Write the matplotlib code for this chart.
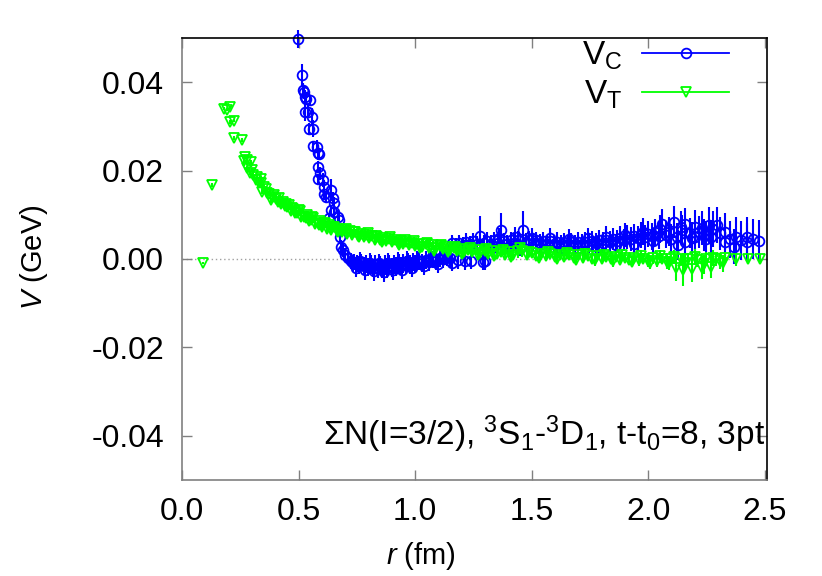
import matplotlib
matplotlib.use("Agg")
import matplotlib.pyplot as plt
from matplotlib.lines import Line2D

plt.rcParams['font.family'] = ['Liberation Sans', 'DejaVu Sans']
plt.rcParams['mathtext.fontset'] = 'custom'
plt.rcParams['mathtext.rm'] = 'Liberation Sans'
plt.rcParams['mathtext.it'] = 'Liberation Sans:italic'
plt.rcParams['mathtext.sf'] = 'Liberation Sans'

# ---------------- data: V_T (tensor) ----------------
r_t = [0.089, 0.128, 0.179, 0.195, 0.205, 0.205, 0.225, 0.222, 0.258, 0.265,
       0.272, 0.280, 0.294, 0.280, 0.301, 0.292, 0.323, 0.337, 0.316, 0.337,
       0.352, 0.344, 0.360, 0.373, 0.380, 0.395, 0.405, 0.416, 0.423, 0.432,
       0.440, 0.452, 0.460, 0.467, 0.478, 0.485, 0.495, 0.505, 0.512, 0.524,
       0.535, 0.545, 0.553, 0.562, 0.570, 0.582, 0.590, 0.600, 0.610, 0.620,
       0.632, 0.640, 0.652, 0.663, 0.675, 0.685, 0.697, 0.708, 0.720, 0.731,
       0.742, 0.755, 0.768, 0.779, 0.790, 0.802, 0.815, 0.826, 0.838, 0.850,
       0.862, 0.875, 0.888, 0.900, 0.913, 0.925, 0.938, 0.950, 0.963, 0.976,
       0.988, 1.000, 1.015, 1.030, 1.045, 1.060, 1.075, 1.090, 1.105, 1.120,
       1.135, 1.150, 1.165, 1.180, 1.195, 1.210, 1.228, 1.245, 1.262, 1.280,
       1.298, 1.315, 1.332, 1.350, 1.368, 1.385, 1.403, 1.420, 1.440, 1.460,
       1.480, 1.500, 1.520, 1.540, 1.560, 1.580, 1.600, 1.620, 1.640, 1.660,
       1.680, 1.700, 1.720, 1.740, 1.760, 1.780, 1.800, 1.820, 1.840, 1.860,
       1.880, 1.900, 1.920, 1.940, 1.960, 1.980, 2.000, 2.020, 2.040, 2.060,
       2.080, 2.100, 2.120, 2.140, 2.150, 2.170, 2.190, 2.210, 2.230, 2.250,
       2.270, 2.290, 2.310, 2.330, 2.375, 2.430, 2.480]
v_t = [-0.0009, 0.0167, 0.0340, 0.0338, 0.0343, 0.0310, 0.0313, 0.0274, 0.0269, 0.0222,
       0.0231, 0.0224, 0.0220, 0.0205, 0.0201, 0.0195, 0.0186, 0.0182, 0.0178, 0.0171,
       0.0163, 0.0152, 0.0158, 0.0148, 0.0133, 0.0145, 0.0136, 0.0137, 0.0124, 0.0130,
       0.0119, 0.0118, 0.0123, 0.0109, 0.0114, 0.0104, 0.0103, 0.0108, 0.0096, 0.0096,
       0.0100, 0.0087, 0.0088, 0.0092, 0.0080, 0.0081, 0.0086, 0.0073, 0.0080, 0.0069,
       0.0076, 0.0066, 0.0072, 0.0063, 0.0069, 0.0060, 0.0066, 0.0057, 0.0063, 0.0054,
       0.0060, 0.0052, 0.0057, 0.0049, 0.0055, 0.0047, 0.0052, 0.0044, 0.0050, 0.0042,
       0.0047, 0.0040, 0.0045, 0.0038, 0.0043, 0.0036, 0.0041, 0.0034, 0.0039, 0.0032,
       0.0037, 0.0030, 0.0035, 0.0028, 0.0033, 0.0026, 0.0031, 0.0024, 0.0029, 0.0022,
       0.0027, 0.0020, 0.0025, 0.0018, 0.0023, 0.0016, 0.0021, 0.0015, 0.0020, 0.0013,
       0.0018, 0.0012, 0.0017, 0.0011, 0.0016, 0.0010, 0.0015, 0.0009, 0.0017, 0.0019,
       0.0008, 0.0013, 0.0007, 0.0012, 0.0006, 0.0011, 0.0005, 0.0010, 0.0004, 0.0009,
       0.0003, 0.0008, 0.0002, 0.0007, 0.0001, 0.0006, 0.0000, 0.0005, -0.0001, 0.0004,
       -0.0002, 0.0003, -0.0002, 0.0002, -0.0003, 0.0001, -0.0004, 0.0002, -0.0005, 0.0001,
       -0.0006, 0.0000, -0.0020, -0.0001, -0.0024, 0.0000, -0.0022, -0.0002, -0.0020, 0.0001,
       -0.0018, -0.0001, -0.0005, 0.0002, -0.0001, 0.0000, 0.0000]
e_t = [0.0003, 0.0004, 0.0004, 0.0004, 0.0004, 0.0004, 0.0004, 0.0004, 0.0004, 0.0005,
       0.0005, 0.0005, 0.0005, 0.0005, 0.0005, 0.0005, 0.0005, 0.0005, 0.0005, 0.0005,
       0.0006, 0.0006, 0.0006, 0.0006, 0.0006, 0.0006, 0.0007, 0.0007, 0.0007, 0.0007,
       0.0007, 0.0007, 0.0007, 0.0007, 0.0007, 0.0007, 0.0008, 0.0008, 0.0008, 0.0008,
       0.0008, 0.0008, 0.0008, 0.0008, 0.0008, 0.0008, 0.0008, 0.0008, 0.0008, 0.0008,
       0.0009, 0.0009, 0.0009, 0.0009, 0.0009, 0.0009, 0.0009, 0.0009, 0.0009, 0.0009,
       0.0009, 0.0009, 0.0009, 0.0009, 0.0009, 0.0009, 0.0009, 0.0009, 0.0009, 0.0009,
       0.0009, 0.0009, 0.0009, 0.0009, 0.0009, 0.0009, 0.0009, 0.0009, 0.0009, 0.0009,
       0.0010, 0.0010, 0.0010, 0.0010, 0.0010, 0.0010, 0.0010, 0.0010, 0.0010, 0.0010,
       0.0010, 0.0010, 0.0010, 0.0010, 0.0010, 0.0010, 0.0010, 0.0010, 0.0010, 0.0010,
       0.0010, 0.0010, 0.0010, 0.0010, 0.0010, 0.0010, 0.0010, 0.0010, 0.0014, 0.0014,
       0.0010, 0.0010, 0.0010, 0.0010, 0.0010, 0.0010, 0.0010, 0.0010, 0.0011, 0.0011,
       0.0011, 0.0011, 0.0011, 0.0011, 0.0011, 0.0011, 0.0011, 0.0011, 0.0011, 0.0011,
       0.0012, 0.0012, 0.0012, 0.0012, 0.0012, 0.0012, 0.0013, 0.0013, 0.0014, 0.0013,
       0.0016, 0.0013, 0.0030, 0.0013, 0.0038, 0.0014, 0.0030, 0.0015, 0.0026, 0.0014,
       0.0025, 0.0015, 0.0018, 0.0014, 0.0015, 0.0012, 0.0012]
# second group of V_T points (other lattice directions)
r_t_b = [0.306, 0.330, 0.365, 0.390, 0.412, 0.445, 0.472, 0.500, 0.530, 0.558,
         0.586, 0.615, 0.645, 0.670, 0.702, 0.736, 0.760, 0.796, 0.832, 0.856,
         0.894, 0.930, 0.957, 0.994, 1.022, 1.052, 1.083, 1.112, 1.142, 1.172,
         1.202, 1.236, 1.270, 1.306, 1.340, 1.376, 1.412, 1.450, 1.490, 1.530,
         1.570, 1.610, 1.650, 1.690, 1.730, 1.770, 1.810, 1.850, 1.890, 1.930,
         1.970, 2.010, 2.050, 2.090, 2.110, 2.160, 2.200, 2.240, 2.280, 2.320]
v_t_b = [0.0190, 0.0172, 0.0150, 0.0140, 0.0128, 0.0125, 0.0116, 0.0110, 0.0092, 0.0095,
         0.0077, 0.0082, 0.0073, 0.0060, 0.0068, 0.0062, 0.0050, 0.0058, 0.0053, 0.0038,
         0.0049, 0.0032, 0.0044, 0.0040, 0.0024, 0.0036, 0.0019, 0.0032, 0.0016, 0.0028,
         0.0012, 0.0025, 0.0008, 0.0022, 0.0006, 0.0020, 0.0004, 0.0024, 0.0016, 0.0002,
         0.0015, 0.0000, 0.0013, -0.0002, 0.0012, -0.0003, 0.0010, -0.0004, 0.0009, -0.0006,
         0.0007, -0.0008, 0.0006, -0.0010, 0.0005, -0.0008, 0.0004, -0.0012, 0.0003, -0.0010]
e_t_b = [0.0007, 0.0007, 0.0008, 0.0008, 0.0008, 0.0009, 0.0009, 0.0009, 0.0009, 0.0009,
         0.0009, 0.0009, 0.0009, 0.0009, 0.0009, 0.0009, 0.0009, 0.0009, 0.0009, 0.0009,
         0.0010, 0.0010, 0.0010, 0.0010, 0.0010, 0.0010, 0.0010, 0.0010, 0.0010, 0.0010,
         0.0010, 0.0010, 0.0010, 0.0011, 0.0011, 0.0011, 0.0011, 0.0012, 0.0011, 0.0011,
         0.0011, 0.0011, 0.0012, 0.0012, 0.0012, 0.0012, 0.0012, 0.0013, 0.0013, 0.0013,
         0.0014, 0.0014, 0.0015, 0.0016, 0.0016, 0.0020, 0.0018, 0.0022, 0.0018, 0.0020]

# ---------------- data: V_C (central) ----------------
r_c = [0.498, 0.517, 0.521, 0.524, 0.527, 0.531, 0.550, 0.527, 0.539, 0.556,
       0.546, 0.563, 0.560, 0.579, 0.582, 0.589, 0.585, 0.593, 0.582, 0.603,
       0.610, 0.610, 0.639, 0.618, 0.647, 0.654, 0.639, 0.654, 0.668, 0.632,
       0.675, 0.680, 0.684, 0.690, 0.700, 0.712, 0.725, 0.740, 0.733, 0.750,
       0.760, 0.770, 0.780, 0.790, 0.800, 0.810, 0.820, 0.830, 0.840, 0.850,
       0.860, 0.870, 0.880, 0.890, 0.900, 0.910, 0.920, 0.930, 0.940, 0.950,
       0.960, 0.970, 0.980, 0.990, 1.000, 1.015, 1.030, 1.045, 1.060, 1.075,
       1.090, 1.105, 1.120, 1.135, 1.150, 1.160, 1.175, 1.190, 1.205, 1.220,
       1.240, 1.235, 1.250, 1.265, 1.280, 1.290, 1.295, 1.310, 1.325, 1.340,
       1.355, 1.367, 1.380, 1.395, 1.410, 1.425, 1.440, 1.463, 1.475, 1.490,
       1.505, 1.520, 1.535, 1.550, 1.565, 1.580, 1.595, 1.610, 1.625, 1.640,
       1.655, 1.670, 1.685, 1.700, 1.715, 1.730, 1.745, 1.760, 1.775, 1.790,
       1.805, 1.820, 1.835, 1.850, 1.865, 1.880, 1.895, 1.910, 1.925, 1.940,
       1.955, 1.970, 1.985, 2.000, 2.015, 2.030, 2.045, 2.060, 2.075, 2.090,
       2.110, 2.125, 2.130, 2.145, 2.160, 2.160, 2.180, 2.200, 2.200, 2.220,
       2.240, 2.260, 2.270, 2.295, 2.310, 2.330, 2.330, 2.370, 2.375, 2.425,
       2.425, 2.475]
v_c = [0.0497, 0.0417, 0.0383, 0.0378, 0.0367, 0.0363, 0.0359, 0.0333, 0.0333, 0.0322,
       0.0295, 0.0295, 0.0255, 0.0254, 0.0239, 0.0237, 0.0209, 0.0194, 0.0180, 0.0179,
       0.0163, 0.0148, 0.0157, 0.0141, 0.0137, 0.0126, 0.0111, 0.0107, 0.0096, 0.0092,
       0.0088, 0.0050, 0.0028, 0.0020, 0.0010, 0.0003, -0.0005, -0.0006, -0.0010, -0.0010,
       -0.0014, -0.0008, -0.0016, -0.0011, -0.0018, -0.0012, -0.0020, -0.0013, -0.0022, -0.0015,
       -0.0021, -0.0014, -0.0020, -0.0013, -0.0019, -0.0012, -0.0017, -0.0011, -0.0016, -0.0010,
       -0.0014, -0.0008, -0.0013, -0.0007, -0.0011, -0.0005, -0.0009, -0.0003, -0.0007, -0.0001,
       -0.0004, 0.0002, -0.0001, 0.0005, 0.0003, 0.0037, 0.0030, 0.0036, 0.0031, 0.0039,
       -0.0005, 0.0033, 0.0040, 0.0034, 0.0052, -0.0006, 0.0036, 0.0041, 0.0035, 0.0042,
       0.0037, 0.0066, 0.0040, 0.0035, 0.0042, 0.0037, 0.0043, 0.0066, 0.0038, 0.0043,
       0.0037, 0.0042, 0.0036, 0.0041, 0.0035, 0.0040, 0.0034, 0.0039, 0.0033, 0.0038,
       0.0033, 0.0038, 0.0033, 0.0038, 0.0034, 0.0039, 0.0035, 0.0040, 0.0036, 0.0042,
       0.0037, 0.0044, 0.0039, 0.0046, 0.0041, 0.0048, 0.0043, 0.0050, 0.0045, 0.0052,
       0.0047, 0.0055, 0.0049, 0.0057, 0.0051, 0.0060, 0.0053, 0.0080, 0.0055, 0.0062,
       0.0084, 0.0050, 0.0032, 0.0065, 0.0080, 0.0039, 0.0058, 0.0073, 0.0050, 0.0062,
       0.0055, 0.0077, 0.0050, 0.0077, 0.0058, 0.0062, 0.0039, 0.0028, 0.0050, 0.0050,
       0.0039, 0.0041]
e_c = [0.0020, 0.0025, 0.0015, 0.0015, 0.0015, 0.0015, 0.0012, 0.0020, 0.0015, 0.0020,
       0.0012, 0.0020, 0.0012, 0.0015, 0.0015, 0.0012, 0.0012, 0.0015, 0.0010, 0.0015,
       0.0015, 0.0012, 0.0025, 0.0012, 0.0015, 0.0015, 0.0012, 0.0015, 0.0015, 0.0012,
       0.0015, 0.0015, 0.0015, 0.0016, 0.0016, 0.0017, 0.0018, 0.0018, 0.0019, 0.0019,
       0.0020, 0.0020, 0.0020, 0.0020, 0.0021, 0.0021, 0.0021, 0.0021, 0.0022, 0.0022,
       0.0022, 0.0022, 0.0022, 0.0022, 0.0022, 0.0022, 0.0022, 0.0022, 0.0021, 0.0021,
       0.0021, 0.0021, 0.0021, 0.0021, 0.0020, 0.0020, 0.0020, 0.0020, 0.0020, 0.0020,
       0.0020, 0.0020, 0.0020, 0.0020, 0.0020, 0.0018, 0.0018, 0.0018, 0.0018, 0.0019,
       0.0018, 0.0019, 0.0019, 0.0019, 0.0045, 0.0018, 0.0019, 0.0019, 0.0019, 0.0019,
       0.0019, 0.0038, 0.0019, 0.0019, 0.0019, 0.0019, 0.0020, 0.0042, 0.0020, 0.0020,
       0.0020, 0.0020, 0.0020, 0.0020, 0.0020, 0.0020, 0.0020, 0.0021, 0.0021, 0.0021,
       0.0021, 0.0021, 0.0021, 0.0022, 0.0022, 0.0022, 0.0022, 0.0023, 0.0023, 0.0023,
       0.0023, 0.0024, 0.0024, 0.0025, 0.0025, 0.0026, 0.0026, 0.0027, 0.0027, 0.0028,
       0.0028, 0.0029, 0.0029, 0.0030, 0.0030, 0.0031, 0.0031, 0.0032, 0.0031, 0.0032,
       0.0036, 0.0032, 0.0034, 0.0034, 0.0036, 0.0036, 0.0034, 0.0038, 0.0036, 0.0036,
       0.0036, 0.0040, 0.0038, 0.0040, 0.0038, 0.0042, 0.0042, 0.0040, 0.0044, 0.0044,
       0.0042, 0.0047]
# second group of V_C points (other lattice directions)
r_c_b = [0.745, 0.765, 0.785, 0.805, 0.825, 0.845, 0.865, 0.885, 0.905, 0.925,
         0.945, 0.965, 0.985, 1.007, 1.037, 1.067, 1.097, 1.127, 1.157, 1.185,
         1.215, 1.300, 1.330, 1.360, 1.400, 1.430, 1.450, 1.500, 1.540, 1.580,
         1.620, 1.660, 1.700, 1.740, 1.780, 1.820, 1.860, 1.900, 1.940, 1.980,
         2.020, 2.050, 2.100, 2.140, 2.190, 2.230, 2.250, 2.280, 2.350, 2.400,
         2.450]
v_c_b = [-0.0020, -0.0004, -0.0026, -0.0008, -0.0028, -0.0010, -0.0030, -0.0008, -0.0026, -0.0006,
         -0.0024, -0.0004, -0.0020, -0.0002, -0.0016, 0.0002, -0.0012, 0.0006, -0.0008, -0.0002,
         -0.0004, -0.0004, 0.0024, 0.0048, 0.0028, 0.0050, 0.0026, 0.0048, 0.0026, 0.0048,
         0.0025, 0.0046, 0.0026, 0.0047, 0.0028, 0.0050, 0.0031, 0.0055, 0.0035, 0.0062,
         0.0040, 0.0068, 0.0045, 0.0072, 0.0048, 0.0070, 0.0045, 0.0068, 0.0045, 0.0042,
         0.0045]
e_c_b = [0.0020, 0.0020, 0.0021, 0.0021, 0.0022, 0.0022, 0.0022, 0.0022, 0.0022, 0.0022,
         0.0021, 0.0021, 0.0021, 0.0020, 0.0020, 0.0020, 0.0020, 0.0020, 0.0020, 0.0020,
         0.0020, 0.0020, 0.0020, 0.0022, 0.0020, 0.0022, 0.0020, 0.0022, 0.0021, 0.0022,
         0.0022, 0.0023, 0.0023, 0.0024, 0.0024, 0.0025, 0.0026, 0.0027, 0.0028, 0.0030,
         0.0030, 0.0032, 0.0034, 0.0036, 0.0036, 0.0038, 0.0040, 0.0040, 0.0042, 0.0044,
         0.0046]

x_ticks = [0.0, 0.5, 1.0, 1.5, 2.0, 2.5]
x_ticklabels = ['0.0', '0.5', '1.0', '1.5', '2.0', '2.5']
y_ticks = [-0.04, -0.02, 0.0, 0.02, 0.04]
y_ticklabels = ['-0.04', '-0.02', '0.00', '0.02', '0.04']

BLUE = '#0000ff'
GREEN = '#00ff00'
FS = 23
W, H = 822, 576

fig = plt.figure(figsize=(W / 100, H / 100), dpi=100)
ax = fig.add_axes([182 / W, 1 - 480 / H, (767 - 182) / W, (480 - 38) / H])

ax.axhline(0.0, color='#a0a0a0', ls=(0, (1, 2)), lw=1.0, zorder=1)

kw_c = dict(fmt='o', color=BLUE, ms=7.0, mfc='none', mec=BLUE, mew=1.3,
            elinewidth=1.5, capsize=0, zorder=2)
kw_t = dict(fmt='v', color=GREEN, ms=7.8, mfc='none', mec=GREEN, mew=1.3,
            elinewidth=1.5, capsize=0, zorder=3)
conts = [ax.errorbar(r_c_b, v_c_b, yerr=e_c_b, **kw_c),
         ax.errorbar(r_c, v_c, yerr=e_c, **kw_c),
         ax.errorbar(r_t_b, v_t_b, yerr=e_t_b, **kw_t),
         ax.errorbar(r_t, v_t, yerr=e_t, **kw_t)]
for c in conts:
    for art in c.get_children():
        art.set_clip_on(False)

ax.set_xlim(0.0, 2.51)
ax.set_ylim(-0.05, 0.05)
ax.set_xticks(x_ticks)
ax.set_xticklabels(x_ticklabels)
ax.set_yticks(y_ticks)
ax.set_yticklabels(y_ticklabels)
ax.tick_params(direction='in', length=7, width=1, color='#808080',
               top=True, right=True, labelsize=FS)
ax.tick_params(axis='y', pad=13)
ax.tick_params(axis='x', pad=12)
for side in ['left', 'bottom']:
    ax.spines[side].set_color('#808080')
for side in ['top', 'right']:
    ax.spines[side].set_color('black')
for s in ax.spines.values():
    s.set_linewidth(1.2)

fig.text(421 / W, 1 - 556 / H, r'$\mathit{r}$ (fm)', fontsize=21,
         ha='center', va='center')
fig.text(34 / W, 1 - 257 / H, r'$\mathit{V}$ (GeV)', fontsize=21,
         ha='center', va='center', rotation=90)

fig.text(765 / W, 1 - 445 / H,
         r'$\Sigma$N(I=3/2), $^{3}$S$_{1}$-$^{3}$D$_{1}$, t-t$_{0}$=8, 3pt',
         fontsize=24, ha='right', va='baseline')

h_c = Line2D([], [], color=BLUE, lw=1.3, marker='o', ms=7.0, mfc='none', mew=1.3)
h_t = Line2D([], [], color=GREEN, lw=1.3, marker='v', ms=7.8, mfc='none', mew=1.3)
leg = ax.legend([h_c, h_t], [r'V$_{\mathrm{C}}$', r'V$_{\mathrm{T}}$'],
                loc='upper right', bbox_to_anchor=(1.0 - 38 / 585, 1.0 - 2 / 442),
                markerfirst=False, frameon=False, fontsize=24,
                handlelength=2.6, numpoints=1, borderpad=0.0,
                labelspacing=0.2, handletextpad=0.6, borderaxespad=0.0)

fig.savefig('out.png', dpi=100)
